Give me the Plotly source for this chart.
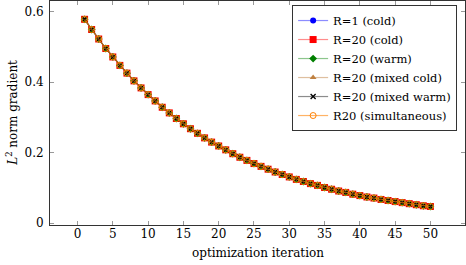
import plotly.graph_objects as go

iterations = list(range(1, 51))
grad_norm = [0.579, 0.550, 0.523, 0.496, 0.472, 0.448, 0.426, 0.404, 0.384, 0.365,
             0.347, 0.329, 0.313, 0.297, 0.282, 0.268, 0.255, 0.242, 0.230, 0.219,
             0.208, 0.197, 0.187, 0.178, 0.169, 0.161, 0.153, 0.145, 0.138, 0.131,
             0.124, 0.118, 0.112, 0.107, 0.101, 0.096, 0.091, 0.087, 0.082, 0.078,
             0.074, 0.071, 0.067, 0.064, 0.061, 0.058, 0.055, 0.052, 0.049, 0.047]

r1_cold = grad_norm
r20_cold = grad_norm
r20_warm = grad_norm
r20_mixed_cold = grad_norm
r20_mixed_warm = grad_norm
r20_simultaneous = grad_norm

series_names = ["R=1 (cold)", "R=20 (cold)", "R=20 (warm)", "R=20 (mixed cold)",
                "R=20 (mixed warm)", "R20 (simultaneous)"]
series_values = [r1_cold, r20_cold, r20_warm, r20_mixed_cold, r20_mixed_warm, r20_simultaneous]

styles = [
    dict(line="rgba(0,0,255,0.45)", mcolor="#0000ff", symbol="circle", size=6, lw=None),
    dict(line="rgba(255,0,0,0.45)", mcolor="#ff0000", symbol="square", size=7, lw=None),
    dict(line="rgba(0,128,0,0.45)", mcolor="#007f00", symbol="diamond", size=6, lw=None),
    dict(line="rgba(191,128,64,0.5)", mcolor="#bf8040", symbol="triangle-up", size=6, lw=None),
    dict(line="rgba(0,0,0,0.45)", mcolor="#000000", symbol="x-thin", size=5, lw=1.3),
    dict(line="rgba(255,128,0,0.6)", mcolor="#ff8000", symbol="circle-open", size=6, lw=1),
]

fig = go.Figure()
for name, vals, st in zip(series_names, series_values, styles):
    marker = dict(color=st["mcolor"], symbol=st["symbol"], size=st["size"])
    if st["lw"] is not None:
        marker["line"] = dict(color=st["mcolor"], width=st["lw"])
    fig.add_trace(go.Scatter(
        x=iterations, y=vals, name=name, mode="lines+markers",
        line=dict(color=st["line"], width=1.2),
        marker=marker,
    ))

font_family = "DejaVu Serif"
fig.update_layout(
    width=466, height=265,
    margin=dict(l=50, r=1, t=1, b=40, autoexpand=False),
    paper_bgcolor="white", plot_bgcolor="white",
    font=dict(family=font_family, size=12, color="black"),
    showlegend=True,
    legend=dict(
        x=0.981, y=0.982, xanchor="right", yanchor="top",
        bordercolor="#333", borderwidth=1, bgcolor="white",
        font=dict(family=font_family, size=11.5),
        itemwidth=30, tracegroupgap=0,
    ),
    xaxis=dict(
        range=[-3.9, 54.9], tick0=0, dtick=5, automargin=False,
        showgrid=False, zeroline=False,
        showline=True, linecolor="#333", linewidth=1, mirror="ticks",
        ticks="inside", ticklen=4, tickcolor="#999", ticklabelstandoff=-2,
        tickfont=dict(family=font_family, size=12),
    ),
    yaxis=dict(
        range=[-0.0056, 0.631], tickvals=[0, 0.2, 0.4, 0.6], automargin=False,
        ticktext=["0", "0.2", "0.4", "0.6"],
        showgrid=False, zeroline=False,
        showline=True, linecolor="#333", linewidth=1, mirror="ticks",
        ticks="inside", ticklen=4, tickcolor="#999", ticklabelstandoff=3,
        tickfont=dict(family=font_family, size=12),
    ),
    annotations=[
        dict(text="optimization iteration", xref="paper", yref="paper",
             x=0.5, y=-0.125, xanchor="center", yanchor="middle", showarrow=False,
             font=dict(family=font_family, size=12)),
        dict(text="<i>L</i><sup>2</sup> norm gradient", xref="paper", yref="paper",
             x=-0.092, y=0.5, xanchor="center", yanchor="middle", showarrow=False,
             textangle=-90, font=dict(family=font_family, size=12)),
    ],
)

fig.write_html("out.html", config={"displayModeBar": False},
               post_script="document.body.style.margin='0';document.body.style.overflow='hidden';")
